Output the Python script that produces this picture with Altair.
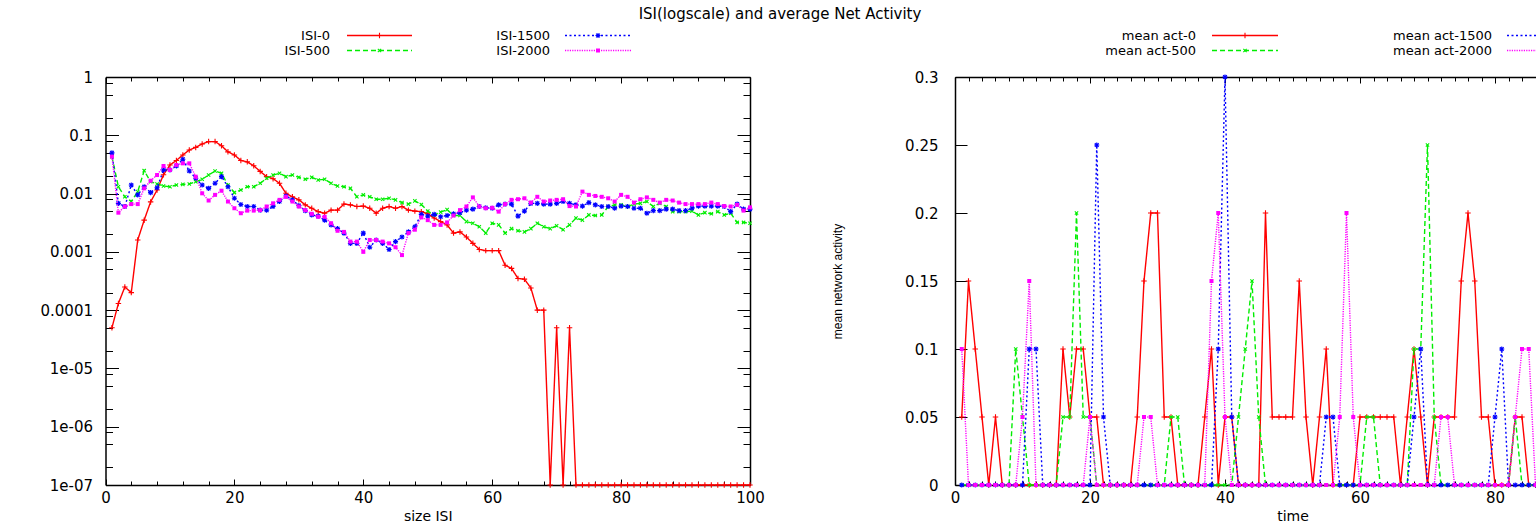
import json
import altair as alt
import pandas as pd

# ---------------- data ----------------
isi_x = list(range(1, 101))
isi_0 = [5e-5, 1.3e-4, 2.5e-4, 2e-4, 1.6e-3, 3.5e-3, 7.2e-3, 0.0115, 0.021, 0.031,
         0.037, 0.046, 0.056, 0.062, 0.071, 0.078, 0.078, 0.066, 0.052, 0.046,
         0.037, 0.035, 0.030, 0.024, 0.0195, 0.018, 0.015, 0.0101, 0.0088, 0.0078,
         0.0064, 0.0056, 0.0049, 0.0046, 0.0052, 0.0052, 0.0066, 0.0064, 0.006, 0.0061,
         0.0056, 0.0046, 0.0056, 0.006, 0.0056, 0.006, 0.0052, 0.005, 0.0049, 0.0045,
         0.0038, 0.0033, 0.0029, 0.0021, 0.0022, 0.0018, 0.0014, 0.0011, 0.00105, 0.00105,
         0.00105, 0.00059, 0.00052, 0.00035, 0.00034, 0.00024, 0.0001, 0.0001, 1e-7, 5e-5,
         1e-7, 5e-5, 1e-7, 1e-7, 1e-7, 1e-7, 1e-7, 1e-7, 1e-7, 1e-7,
         1e-7, 1e-7, 1e-7, 1e-7, 1e-7, 1e-7, 1e-7, 1e-7, 1e-7, 1e-7,
         1e-7, 1e-7, 1e-7, 1e-7, 1e-7, 1e-7, 1e-7, 1e-7, 1e-7, 1e-7]
isi_500 = [0.043, 0.0131, 0.0088, 0.0073, 0.0108, 0.0247, 0.016, 0.0146, 0.0135, 0.0131,
           0.014, 0.0144, 0.0146, 0.016, 0.0176, 0.0208, 0.0244, 0.0223, 0.014, 0.0104,
           0.0115, 0.0131, 0.0131, 0.015, 0.0183, 0.0208, 0.0223, 0.0195, 0.0208, 0.019,
           0.0176, 0.019, 0.0171, 0.0176, 0.015, 0.0135, 0.0131, 0.0123, 0.0088, 0.0095,
           0.0088, 0.008, 0.008, 0.0083, 0.0078, 0.007, 0.0066, 0.0075, 0.0065, 0.005,
           0.0043, 0.0048, 0.0053, 0.0042, 0.0042, 0.0033, 0.0031, 0.0027, 0.0021, 0.0031,
           0.0029, 0.0021, 0.0025, 0.0023, 0.0022, 0.0025, 0.0031, 0.0027, 0.0025, 0.0028,
           0.0024, 0.0029, 0.0038, 0.0035, 0.0043, 0.0042, 0.0043, 0.006, 0.0064, 0.0064,
           0.006, 0.0066, 0.0068, 0.0073, 0.006, 0.0068, 0.006, 0.0049, 0.0049, 0.0049,
           0.005, 0.0043, 0.0047, 0.0045, 0.0049, 0.0043, 0.0046, 0.0032, 0.0032, 0.0031]
isi_1500 = [0.05, 0.0068, 0.006, 0.014, 0.0095, 0.0131, 0.0104, 0.0126, 0.0254, 0.0254,
            0.0297, 0.0387, 0.0244, 0.0183, 0.014, 0.0123, 0.015, 0.0195, 0.0131, 0.0083,
            0.0065, 0.006, 0.006, 0.0052, 0.0052, 0.006, 0.0073, 0.0091, 0.0078, 0.0062,
            0.0051, 0.0043, 0.0041, 0.0035, 0.0029, 0.0025, 0.0021, 0.0014, 0.0014, 0.0021,
            0.0012, 0.0016, 0.0014, 0.0011, 0.0015, 0.0018, 0.0022, 0.0027, 0.0044, 0.0041,
            0.0044, 0.004, 0.0042, 0.0045, 0.0047, 0.0052, 0.0054, 0.006, 0.0057, 0.0056,
            0.0064, 0.0066, 0.0066, 0.0041, 0.005, 0.0068, 0.0068, 0.0066, 0.0066, 0.0068,
            0.0073, 0.0068, 0.0064, 0.0061, 0.007, 0.0064, 0.006, 0.006, 0.0056, 0.0061,
            0.006, 0.0056, 0.0056, 0.0046, 0.0051, 0.0051, 0.0054, 0.0054, 0.0051, 0.0051,
            0.0056, 0.0061, 0.0061, 0.0061, 0.0061, 0.006, 0.0049, 0.0066, 0.0054, 0.0054]
isi_2000 = [0.043, 0.0047, 0.006, 0.0066, 0.0066, 0.0123, 0.0166, 0.0208, 0.0297, 0.0254,
            0.031, 0.033, 0.033, 0.0195, 0.0101, 0.0076, 0.0095, 0.0112, 0.0073, 0.0056,
            0.0046, 0.0051, 0.0051, 0.0052, 0.006, 0.0068, 0.0078, 0.0088, 0.0073, 0.006,
            0.0052, 0.0045, 0.004, 0.004, 0.0031, 0.0023, 0.0022, 0.0015, 0.0015, 0.001,
            0.0016, 0.0016, 0.0015, 0.0014, 0.0012, 0.00088, 0.0021, 0.0024, 0.0039, 0.0035,
            0.0029, 0.0029, 0.0032, 0.0042, 0.0052, 0.006, 0.0086, 0.006, 0.0056, 0.0057,
            0.0049, 0.0066, 0.0078, 0.008, 0.0083, 0.007, 0.0088, 0.0073, 0.0076, 0.0078,
            0.008, 0.0061, 0.006, 0.0108, 0.0095, 0.0091, 0.0088, 0.0083, 0.0073, 0.0095,
            0.0088, 0.007, 0.008, 0.0086, 0.0078, 0.007, 0.0078, 0.0076, 0.007, 0.0066,
            0.0066, 0.0066, 0.0066, 0.007, 0.0066, 0.0061, 0.006, 0.0064, 0.0051, 0.0058]

act_t = list(range(1, 87))
act_0 = [0.05, 0.15, 0.1, 0.05, 0, 0.05, 0, 0, 0, 0,
         0, 0, 0, 0, 0, 0.1, 0.05, 0.1, 0.1, 0.05,
         0.05, 0, 0, 0, 0, 0, 0.05, 0.15, 0.2, 0.2,
         0.05, 0.05, 0, 0, 0, 0, 0.05, 0.1, 0, 0.05,
         0.05, 0, 0, 0, 0, 0.2, 0.05, 0.05, 0.05, 0.05,
         0.15, 0.05, 0, 0.05, 0.1, 0, 0, 0, 0, 0.05,
         0.05, 0.05, 0.05, 0.05, 0.05, 0, 0.05, 0.1, 0.05, 0,
         0.05, 0.05, 0.05, 0.05, 0.15, 0.2, 0.15, 0.05, 0.05, 0,
         0, 0, 0.05, 0.05, 0, 0]
act_500 = [0, 0, 0, 0, 0, 0, 0, 0, 0.1, 0.05,
           0, 0, 0, 0, 0, 0.05, 0.05, 0.2, 0.05, 0.05,
           0, 0, 0, 0, 0, 0, 0, 0, 0, 0,
           0, 0.05, 0.05, 0, 0, 0, 0, 0, 0, 0,
           0, 0.05, 0.1, 0.15, 0.05, 0, 0, 0, 0, 0,
           0, 0, 0, 0, 0, 0, 0, 0, 0, 0,
           0.05, 0.05, 0, 0, 0, 0, 0, 0.1, 0.1, 0.25,
           0.05, 0, 0, 0, 0, 0, 0, 0, 0, 0,
           0, 0, 0.05, 0, 0, 0]
act_1500 = [0, 0, 0, 0, 0, 0, 0, 0, 0, 0,
            0.1, 0.1, 0, 0, 0, 0, 0, 0, 0, 0,
            0.25, 0.05, 0, 0, 0, 0, 0, 0, 0, 0,
            0, 0, 0, 0, 0, 0, 0, 0, 0.1, 0.3,
            0.05, 0, 0, 0, 0, 0, 0, 0, 0, 0,
            0, 0, 0, 0, 0.05, 0.05, 0, 0, 0, 0,
            0, 0, 0, 0, 0, 0, 0, 0.05, 0.1, 0,
            0, 0, 0, 0, 0, 0, 0, 0, 0, 0.05,
            0.1, 0, 0, 0, 0, 0]
act_2000 = [0.1, 0, 0, 0, 0, 0, 0, 0, 0, 0.05,
            0.15, 0, 0, 0, 0, 0, 0, 0, 0, 0.05,
            0, 0, 0, 0, 0, 0, 0, 0.05, 0.05, 0,
            0, 0, 0, 0, 0, 0, 0, 0.15, 0.2, 0.05,
            0, 0, 0, 0, 0, 0, 0, 0, 0, 0,
            0, 0, 0, 0, 0, 0, 0.05, 0.2, 0.05, 0,
            0, 0, 0, 0, 0, 0, 0, 0, 0, 0,
            0, 0.05, 0.05, 0, 0, 0, 0, 0, 0, 0,
            0, 0, 0.05, 0.1, 0.1, 0]

left_names = ["ISI-0", "ISI-500", "ISI-1500", "ISI-2000"]
right_names = ["mean act-0", "mean act-500", "mean act-1500", "mean act-2000"]
log_tick_labels = ["1", "0.1", "0.01", "0.001", "0.0001", "1e-05", "1e-06", "1e-07"]
chart_title = "ISI(logscale) and average Net Activity"
left_xtitle = "size ISI"
right_xtitle = "time"
right_ytitle = "mean network activity"

# ---------------- styles / layout ----------------
FONT = "DejaVu Sans"
W, H = 1536, 525
LX0, LX1 = 105.5, 750
RX0, RX1 = 955, 1630
YB, YT = 485, 77

PLUS = "M-1,0L1,0M0,-1L0,1"
XMARK = "M-0.75,-0.75L0.75,0.75M-0.75,0.75L0.75,-0.75"
STAR = PLUS + XMARK
styles = [
    dict(color="#ff0000", dash=[1, 0], shape=PLUS, filled=False, size=30),
    dict(color="#00ee00", dash=[5, 3], shape=XMARK, filled=False, size=20),
    dict(color="#0000ff", dash=[2, 2.5], shape=STAR, filled=False, size=26),
    dict(color="#ff00ff", dash=[1.2, 1.2], shape="square", filled=True, size=16),
]

x_left = alt.Scale(domain=[0, 100], range=[LX0, LX1], nice=False, zero=False)
y_left = alt.Scale(type="log", domain=[1e-7, 1], range=[YB, YT], nice=False)
x_right = alt.Scale(domain=[0, 100], range=[RX0, RX1], nice=False, zero=False)
y_right = alt.Scale(domain=[0, 0.3], range=[YB, YT], nice=False, zero=False)

lin_x_major20 = {"condition": {"test": "datum.value % 20 === 0", "value": 6}, "value": 4}
log_major = {"condition": {"test": "abs(log(datum.value)/LN10 - round(log(datum.value)/LN10)) < 0.001",
                           "value": 13}, "value": 7}

left_xticks = list(range(0, 101, 4))
right_xticks = list(range(0, 101, 2))
decades = [10.0 ** (-k) for k in range(0, 8)]
left_yticks = decades + [m * 10.0 ** (-k) for k in range(1, 8) for m in (2, 5, 8)]
right_yticks = [round(i * 0.05, 2) for i in range(0, 7)]

label_expr = json.dumps(log_tick_labels) + "[round(-log(datum.value)/LN10)]"


def series_layers(xs, series, names, xs_scale, ys_scale):
    out = []
    for name, vals, st in zip(names, series, styles):
        df = pd.DataFrame({"x": xs, "v": vals, "series": name})
        base = alt.Chart(df)
        enc = dict(x=alt.X("x:Q", scale=xs_scale, axis=None),
                   y=alt.Y("v:Q", scale=ys_scale, axis=None))
        out.append(base.mark_line(color=st["color"], strokeDash=st["dash"],
                                  strokeWidth=1.4).encode(**enc))
        out.append(base.mark_point(shape=st["shape"], filled=st["filled"], size=st["size"],
                                   color=st["color"], strokeWidth=1.1, opacity=1).encode(**enc))
    return out


def carrier(df, xs_scale, ys_scale, xaxis, yaxis):
    return alt.Chart(df).mark_point(opacity=0).encode(
        x=alt.X("x:Q", scale=xs_scale, axis=xaxis, title=None),
        y=alt.Y("v:Q", scale=ys_scale, axis=yaxis, title=None),
    )


df_left = pd.DataFrame({"x": isi_x, "v": isi_0})
df_right = pd.DataFrame({"x": act_t, "v": act_0})

# ---- left panel axes ----
ax_l_bottom = alt.Axis(orient="bottom", offset=-(H - YB), values=list(range(0, 101, 20)),
                       ticks=False, tickSize=0, domain=True, labelPadding=5, labelFlush=False,
                       title=left_xtitle, titleY=31, titleBaseline="middle")
ax_l_bottom_ticks = alt.Axis(orient="top", offset=-YB, values=left_xticks, tickSize=lin_x_major20,
                             domain=False, labels=False, title=None)
ax_l_top = alt.Axis(orient="bottom", offset=-(H - YT), values=left_xticks, tickSize=lin_x_major20,
                    domain=True, labels=False, title=None)
ax_l_left = alt.Axis(orient="left", offset=-LX0, values=decades, ticks=False, tickSize=0,
                     domain=True, labelExpr=label_expr, labelPadding=13, title=None)
ax_l_left_ticks = alt.Axis(orient="right", offset=LX0 - W, values=left_yticks, tickSize=log_major,
                           domain=False, labels=False, title=None)
ax_l_right = alt.Axis(orient="left", offset=-LX1, values=left_yticks, tickSize=log_major,
                      domain=True, labels=False, title=None)

left_panel = alt.layer(
    carrier(df_left, x_left, y_left, ax_l_bottom, ax_l_left),
    carrier(df_left, x_left, y_left, ax_l_bottom_ticks, ax_l_left_ticks),
    carrier(df_left, x_left, y_left, ax_l_top, ax_l_right),
    *series_layers(isi_x, [isi_0, isi_500, isi_1500, isi_2000], left_names, x_left, y_left),
).resolve_axis(x="independent", y="independent")

# ---- right panel axes ----
ax_r_bottom = alt.Axis(orient="bottom", offset=-(H - YB), values=list(range(0, 81, 20)),
                       ticks=False, tickSize=0, domain=True, labelPadding=5, labelFlush=False,
                       title=right_xtitle, titleY=31, titleBaseline="middle")
ax_r_bottom_ticks = alt.Axis(orient="top", offset=-YB, values=right_xticks, tickSize=lin_x_major20,
                             domain=False, labels=False, title=None)
ax_r_top = alt.Axis(orient="bottom", offset=-(H - YT), values=right_xticks, tickSize=lin_x_major20,
                    domain=True, labels=False, title=None)
ax_r_left = alt.Axis(orient="left", offset=-RX0, values=right_yticks, ticks=False, tickSize=0,
                     domain=True, format="~g", labelPadding=17,
                     title=right_ytitle, titleX=-118, titleY=(YB + YT) / 2, titleBaseline="middle",
                     titleFont="Liberation Sans", titleFontSize=12)
ax_r_left_ticks = alt.Axis(orient="right", offset=RX0 - W, values=right_yticks, tickSize=12,
                           domain=False, labels=False, title=None)

right_panel = alt.layer(
    carrier(df_right, x_right, y_right, ax_r_bottom, ax_r_left),
    carrier(df_right, x_right, y_right, ax_r_bottom_ticks, ax_r_left_ticks),
    carrier(df_right, x_right, y_right, ax_r_top, None),
    *series_layers(act_t, [act_0, act_500, act_1500, act_2000], right_names, x_right, y_right),
).resolve_axis(x="independent", y="independent")

# ---- title and key (gnuplot style: text, then sample line with marker) ----
title_layer = alt.Chart(pd.DataFrame({"label": [chart_title]})).mark_text(
    align="center", baseline="middle", font=FONT, fontSize=15, color="#000"
).encode(text="label:N", x=alt.value(780), y=alt.value(14))

KY1, KY2 = 35.5, 50.5
key_specs = [
    # (label, style index, text right x, sample x0, sample x1, y)
    (left_names[0], 0, 330, 347, 412, KY1),
    (left_names[1], 1, 330, 347, 412, KY2),
    (left_names[2], 2, 550, 565, 631, KY1),
    (left_names[3], 3, 550, 565, 631, KY2),
    (right_names[0], 0, 1196, 1212, 1278, KY1),
    (right_names[1], 1, 1196, 1212, 1278, KY2),
    (right_names[2], 2, 1492, 1507, 1573, KY1),
    (right_names[3], 3, 1492, 1507, 1573, KY2),
]
key_layers = []
for label, si, tx, sx0, sx1, ky in key_specs:
    st = styles[si]
    kdf = pd.DataFrame({"label": [label]})
    kc = alt.Chart(kdf)
    key_layers.append(kc.mark_text(align="right", baseline="middle", font=FONT, fontSize=13,
                                   color="#000").encode(text="label:N", x=alt.value(tx), y=alt.value(ky)))
    key_layers.append(kc.mark_rule(color=st["color"], strokeDash=st["dash"], strokeWidth=1.4).encode(
        x=alt.value(sx0), x2=alt.value(sx1), y=alt.value(ky)))
    key_layers.append(kc.mark_point(shape=st["shape"], filled=st["filled"], size=st["size"],
                                    color=st["color"], strokeWidth=1.1, opacity=1).encode(
        x=alt.value((sx0 + sx1) / 2), y=alt.value(ky)))

chart = alt.layer(left_panel, right_panel, title_layer, *key_layers).resolve_scale(
    x="independent", y="independent"
).properties(
    width=W, height=H, padding=0,
    autosize=alt.AutoSizeParams(type="none"),
).configure_view(stroke=None).configure_axis(
    grid=False, labelFont=FONT, labelFontSize=15, labelColor="#000", labelOverlap=False,
    titleFont=FONT, titleFontSize=14, titleFontWeight="normal", titleColor="#000",
    domainColor="#000", domainWidth=1.5, tickColor="#000", tickWidth=1,
)

chart.save("out.html", embed_options={"renderer": "svg", "actions": False})
